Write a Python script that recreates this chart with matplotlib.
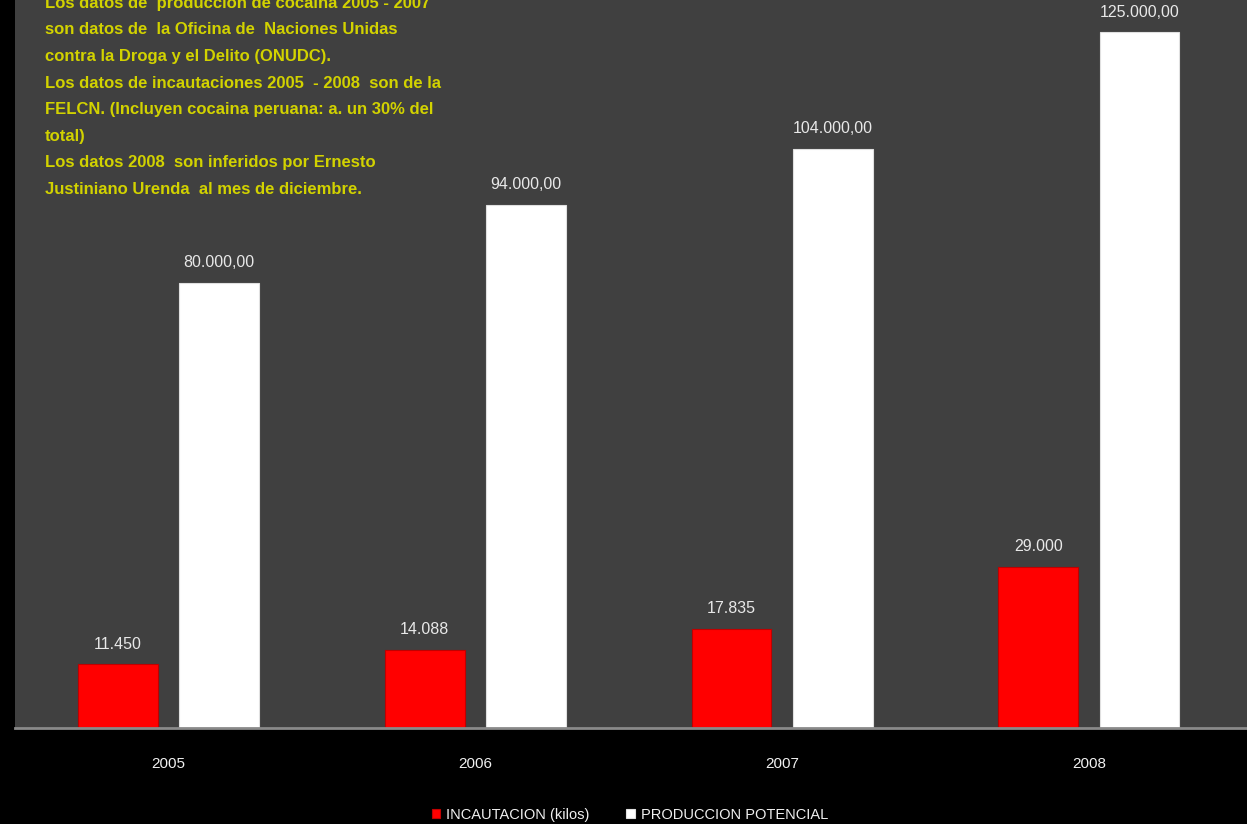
import matplotlib
matplotlib.use("Agg")
import matplotlib.pyplot as plt
import numpy as np

years = ["2005", "2006", "2007", "2008"]
incautacion = [11450, 14088, 17835, 29000]
produccion = [80000, 94000, 104000, 125000]
series_names = ["INCAUTACION (kilos)", "PRODUCCION POTENCIAL"]
note_lines = [
    "Los datos de  producción de cocaína 2005 - 2007",
    "son datos de  la Oficina de  Naciones Unidas",
    "contra la Droga y el Delito (ONUDC).",
    "Los datos de incautaciones 2005  - 2008  son de la",
    "FELCN. (Incluyen cocaina peruana: a. un 30% del",
    "total)",
    "Los datos 2008  son inferidos por Ernesto",
    "Justiniano Urenda  al mes de diciembre.",
]

def fmt_int(v):
    return f"{v:,}".replace(",", ".")

def fmt_dec(v):
    return f"{v:,}".replace(",", ".") + ",00"

plt.rcParams['font.family'] = ['Liberation Sans', 'DejaVu Sans']

fig = plt.figure(figsize=(12.47, 8.24), dpi=100, facecolor="black")
ax = fig.add_axes([15/1247, 96/824, 1 - 15/1247, 1 - 96/824])
ax.set_facecolor("#404040")

x = np.arange(len(years))
w = 0.26
off = 0.165
b1 = ax.bar(x - off, incautacion, w, color="#ff0000", edgecolor="#c00000", linewidth=0.8,
            label=series_names[0])
b2 = ax.bar(x + off, produccion, w, color="#ffffff", edgecolor="#e0e0e0", linewidth=0.8,
            label=series_names[1])

for rect, v in zip(b1, incautacion):
    ax.annotate(fmt_int(v), (rect.get_x() + rect.get_width()/2, v), xytext=(0, 9),
                textcoords="offset points", ha="center", va="bottom",
                color="#e8e8e8", fontsize=11.5)
for rect, v in zip(b2, produccion):
    ax.annotate(fmt_dec(v), (rect.get_x() + rect.get_width()/2, v), xytext=(0, 9),
                textcoords="offset points", ha="center", va="bottom",
                color="#e8e8e8", fontsize=11.5)

ax.set_xlim(-0.5, 3.515)
ax.set_ylim(0, 130750)
ax.set_yticks([])
ax.set_xticks(x)
ax.set_xticklabels(years, color="#f0f0f0", fontsize=11)
ax.tick_params(axis="x", length=0, pad=21)
for s in ["top", "right", "left"]:
    ax.spines[s].set_visible(False)
ax.spines["bottom"].set_color("#8a8a8a")
ax.spines["bottom"].set_linewidth(2)

ax.text(30/1232, 1.006, "\n".join(note_lines), transform=ax.transAxes,
        ha="left", va="top", color="#d2d200", fontsize=12, fontweight="bold",
        linespacing=1.97)

leg = fig.legend(loc="center", bbox_to_anchor=(0.505, 9/824), ncol=2, frameon=False,
                 fontsize=10.5, labelcolor="#f0f0f0", handlelength=0.6, handleheight=0.6,
                 handletextpad=0.4, columnspacing=2.5)

fig.savefig("out.png", dpi=100, facecolor="black")
